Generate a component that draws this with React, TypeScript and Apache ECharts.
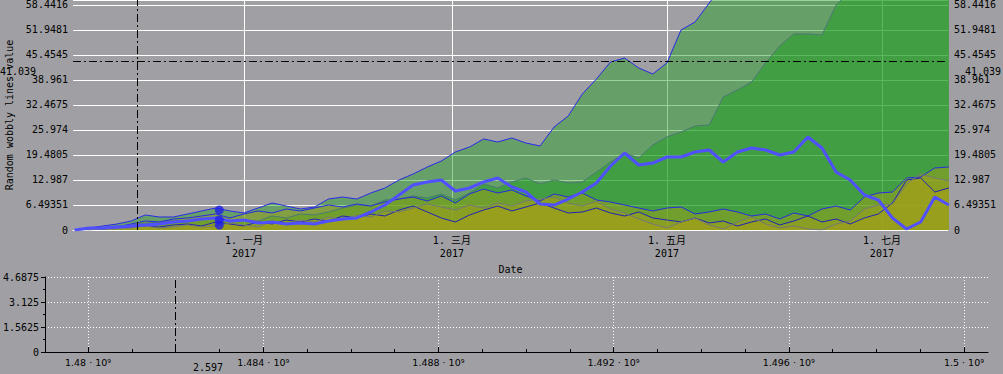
import React, { useEffect, useRef } from "react";
import * as echarts from "echarts";

// ---------- data ----------
const dates = [
  "2016-11-14", "2016-11-18", "2016-11-22", "2016-11-26", "2016-11-30",
  "2016-12-04", "2016-12-08", "2016-12-12", "2016-12-16", "2016-12-20", "2016-12-24", "2016-12-28",
  "2017-01-01", "2017-01-05", "2017-01-09", "2017-01-13", "2017-01-17", "2017-01-21", "2017-01-25", "2017-01-29",
  "2017-02-02", "2017-02-06", "2017-02-10", "2017-02-14", "2017-02-18", "2017-02-22", "2017-02-26",
  "2017-03-02", "2017-03-06", "2017-03-10", "2017-03-14", "2017-03-18", "2017-03-22", "2017-03-26", "2017-03-30",
  "2017-04-03", "2017-04-07", "2017-04-11", "2017-04-15", "2017-04-19", "2017-04-23", "2017-04-27",
  "2017-05-01", "2017-05-05", "2017-05-09", "2017-05-13", "2017-05-17", "2017-05-21", "2017-05-25", "2017-05-29",
  "2017-06-02", "2017-06-06", "2017-06-10", "2017-06-14", "2017-06-18", "2017-06-22", "2017-06-26", "2017-06-30",
  "2017-07-04", "2017-07-08", "2017-07-12", "2017-07-16", "2017-07-20",
];

const wobbleA = [0, 0.52, 1.04, 1.56, 2.34, 3.9, 3.38, 3.38, 4.16, 4.94, 5.71, 4.94, 4.42, 5.71, 7.01, 6.23, 5.45, 5.97, 8.05, 8.57, 8.05, 9.61, 10.91, 12.99, 14.55, 16.36, 17.92, 20.26, 21.56, 23.64, 22.86, 23.9, 22.6, 21.82, 26.75, 29.61, 35.32, 39.22, 43.64, 44.68, 42.08, 40.52, 43.38, 51.95, 54.03, 58.96, 64, 68, 72, 75, 79, 82, 85, 88, 90, 93, 95, 98, 100, 102, 104, 106, 108];
const wobbleB = [0, 0.26, 0.52, 1.04, 1.3, 1.82, 2.08, 2.6, 2.34, 2.86, 3.12, 2.08, 2.6, 2.34, 3.64, 3.12, 4.16, 3.9, 4.68, 5.71, 6.49, 6.23, 7.79, 8.05, 8.83, 8.31, 9.35, 7.79, 9.61, 11.95, 10.91, 12.47, 13.51, 11.95, 12.99, 12.21, 12.47, 15.06, 17.66, 20.0, 18.7, 22.08, 24.16, 25.45, 27.01, 27.27, 34.55, 36.36, 38.44, 43.38, 47.79, 50.91, 50.91, 50.65, 58.44, 62, 64, 66, 68, 70, 72, 74, 76];
const wobbleC = [0, 0.26, 0.52, 0.78, 1.56, 2.34, 2.08, 2.86, 3.12, 3.64, 4.16, 3.12, 4.16, 4.94, 4.42, 5.45, 4.94, 5.71, 6.49, 5.97, 6.75, 6.23, 7.27, 8.05, 8.57, 7.53, 8.83, 7.01, 9.35, 10.65, 9.61, 10.39, 8.83, 7.53, 9.35, 8.57, 9.61, 7.79, 7.27, 6.49, 5.71, 4.94, 5.71, 5.97, 4.16, 4.68, 5.45, 4.68, 3.64, 4.16, 2.86, 4.42, 3.64, 5.45, 6.23, 5.19, 8.57, 9.61, 9.87, 13.51, 13.77, 16.1, 16.36];
const wobbleD = [0, 0.26, 0.26, 0.52, 0.78, 1.04, 0.78, 1.3, 1.56, 1.04, 2.08, 1.56, 1.04, 2.08, 1.56, 2.6, 2.08, 2.86, 2.34, 3.64, 3.12, 4.16, 3.64, 5.19, 6.23, 4.68, 3.12, 2.08, 3.9, 5.19, 6.23, 4.94, 5.97, 7.01, 5.71, 4.42, 4.68, 5.71, 4.42, 3.64, 4.68, 3.12, 2.6, 2.08, 3.12, 1.82, 2.34, 1.04, 2.08, 2.86, 1.3, 2.34, 3.64, 2.08, 2.86, 1.56, 3.12, 4.16, 7.01, 12.99, 13.51, 9.87, 10.91];
const wobbleE = [0, 0, 0.26, 0.26, 0.52, 1.04, 0.52, 0.78, 1.3, 0.78, 1.04, 1.82, 1.3, 0.78, 2.34, 1.56, 2.6, 2.08, 3.38, 2.6, 3.9, 3.38, 4.94, 4.68, 5.71, 6.75, 5.97, 5.19, 6.49, 5.71, 7.01, 6.23, 7.53, 8.05, 8.57, 7.01, 6.23, 7.53, 5.45, 4.42, 2.86, 1.56, 0.52, 2.08, 3.12, 1.3, 0.26, 2.08, 3.38, 1.56, 0.52, 1.04, 0.26, 0, 1.56, 2.34, 5.45, 6.49, 6.75, 11.95, 14.55, 13.51, 12.73];
const wobbleThick = [0, 0.52, 0.52, 0.78, 1.04, 1.3, 1.56, 2.08, 2.34, 2.86, 3.12, 2.34, 2.6, 1.82, 2.08, 1.56, 1.82, 1.56, 2.34, 2.86, 3.12, 4.68, 6.49, 9.09, 11.69, 12.47, 12.99, 10.13, 10.91, 12.47, 13.51, 11.17, 9.87, 6.75, 6.49, 8.05, 9.87, 12.21, 16.62, 20.0, 16.88, 17.4, 18.96, 18.96, 20.26, 20.78, 17.66, 20.26, 21.3, 20.78, 19.48, 20.26, 24.16, 21.3, 15.06, 12.99, 9.09, 7.79, 3.12, 0.26, 2.08, 8.57, 6.49];

const dotDate = "2016-12-25";
const dotValues = [5.19, 2.6, 1.3];

const crossDate = "2016-12-01T16:00:00Z";
const crossValue = 43.9;
const crossLabel = "41.039";
const bottomCross = 1.481989e9;
const bottomCrossLabel = "2.597";

const topStep = 500 / 77;
const topTickLabels = ["0", "6.49351", "12.987", "19.4805", "25.974", "32.4675", "38.961", "45.4545", "51.9481", "58.4416"];
const monthTickDates = ["2017-01-01", "2017-03-01", "2017-05-01", "2017-07-01"];
const monthTickLabels = ["1. 一月\n2017", "1. 三月\n2017", "1. 五月\n2017", "1. 七月\n2017"];

const bottomStep = 1.5625;
const bottomYLabels = ["0", "1.5625", "3.125", "4.6875"];
const bottomXTicks = [1.48e9, 1.484e9, 1.488e9, 1.492e9, 1.496e9, 1.5e9];
const bottomXLabels = ["1.48 · 10⁹", "1.484 · 10⁹", "1.488 · 10⁹", "1.492 · 10⁹", "1.496 · 10⁹", "1.5 · 10⁹"];
const bottomXMinor = [
  1.481e9, 1.482e9, 1.483e9, 1.485e9, 1.486e9, 1.487e9, 1.489e9, 1.49e9, 1.491e9,
  1.493e9, 1.494e9, 1.495e9, 1.497e9, 1.498e9, 1.499e9,
];
const bottomXMin = 1.479017e9;
const bottomXMax = 1.500549e9;

// ---------- helpers ----------
const ts = (s: string) => (s.length <= 10 ? Date.parse(s + "T00:00:00Z") : Date.parse(s));
const MONO = "'DejaVu Sans Mono', 'Noto Sans CJK SC', monospace";
const pairs = (vals: number[]) => dates.map((d, i) => [ts(d), vals[i]]);
const nearestIndex = (arr: number[], v: number) => {
  let best = 0;
  arr.forEach((t, i) => {
    if (Math.abs(t - v) < Math.abs(arr[best] - v)) best = i;
  });
  return best;
};

export default function App() {
  const ref = useRef<HTMLDivElement>(null);

  useEffect(() => {
    if (!ref.current) return;
    const chart = echarts.init(ref.current, null, { renderer: "svg" });
    const monthTicks = monthTickDates.map(ts);
    const dashDot = [8, 3, 2, 3];

    const lineSeries = (name: string, vals: number[], color: string, width: number, area?: string) => {
      const s: any = {
        name,
        type: "line",
        xAxisIndex: 0,
        yAxisIndex: 0,
        data: pairs(vals),
        symbol: "none",
        showSymbol: false,
        clip: true,
        lineStyle: { color, width },
        z: 2,
      };
      if (area) s.areaStyle = { color: area, opacity: 1 };
      return s;
    };

    const option: any = {
      animation: false,
      backgroundColor: "#a0a0a4",
      textStyle: { fontFamily: MONO, fontSize: 10, color: "#000" },
      grid: [
        { left: 73, right: 55, top: 0, bottom: 144, outerBoundsMode: "none", containLabel: false },
        { left: 45, right: 15, top: 277, bottom: 22, outerBoundsMode: "none", containLabel: false },
      ],
      xAxis: [
        {
          type: "value",
          gridIndex: 0,
          min: Date.parse("2016-11-13T12:00:00Z"),
          max: Date.parse("2017-07-19T18:00:00Z"),
          name: "Date",
          nameLocation: "middle",
          nameGap: 32,
          nameTextStyle: { fontFamily: MONO, fontSize: 10, color: "#000", verticalAlign: "top" },
          axisLine: { show: true, onZero: false, lineStyle: { color: "#ffffff", width: 1 } },
          axisTick: { show: false, customValues: monthTicks },
          axisLabel: {
            customValues: monthTicks,
            margin: 4,
            lineHeight: 13,
            fontFamily: MONO,
            fontSize: 10,
            color: "#000",
            formatter: (v: number) => monthTickLabels[nearestIndex(monthTicks, v)],
          },
          splitLine: { show: true, lineStyle: { color: "#ffffff", width: 1 } },
        },
        {
          type: "value",
          gridIndex: 1,
          min: bottomXMin,
          max: bottomXMax,
          axisLine: { show: true, onZero: false, lineStyle: { color: "#000", width: 1 } },
          axisTick: { show: true, inside: true, length: 5, customValues: bottomXTicks, lineStyle: { color: "#000" } },
          axisLabel: {
            customValues: bottomXTicks,
            margin: 5,
            fontFamily: "'DejaVu Sans', sans-serif",
            fontSize: 9.5,
            color: "#000",
            formatter: (v: number) => bottomXLabels[nearestIndex(bottomXTicks, v)],
          },
          splitLine: { show: true, lineStyle: { color: "#ffffff", type: [1, 2], width: 1 } },
        },
        {
          type: "value",
          gridIndex: 1,
          position: "bottom",
          min: bottomXMin,
          max: bottomXMax,
          axisLine: { show: false, onZero: false },
          axisTick: { show: true, inside: true, length: 3, customValues: bottomXMinor, lineStyle: { color: "#000" } },
          axisLabel: { show: false },
          splitLine: { show: false },
        },
      ],
      yAxis: [
        {
          type: "value",
          gridIndex: 0,
          position: "left",
          min: 0,
          max: 59.74,
          interval: topStep,
          name: "Random wobbly lines value",
          nameLocation: "middle",
          nameGap: 58,
          nameTextStyle: { fontFamily: MONO, fontSize: 10, color: "#000" },
          axisLine: { show: false },
          axisTick: { show: false },
          axisLabel: {
            margin: 5,
            showMaxLabel: false,
            fontFamily: MONO,
            fontSize: 10,
            color: "#000",
            formatter: (v: number) => topTickLabels[Math.round(v / topStep)] ?? "",
          },
          splitLine: { show: true, lineStyle: { color: "#ffffff", width: 1 } },
        },
        {
          type: "value",
          gridIndex: 0,
          position: "right",
          min: 0,
          max: 59.74,
          interval: topStep,
          axisLine: { show: false },
          axisTick: { show: false },
          axisLabel: {
            margin: 6,
            showMaxLabel: false,
            fontFamily: MONO,
            fontSize: 10,
            color: "#000",
            formatter: (v: number) => topTickLabels[Math.round(v / topStep)] ?? "",
          },
          splitLine: { show: false },
        },
        {
          type: "value",
          gridIndex: 1,
          min: 0,
          max: 4.6875,
          interval: bottomStep,
          axisLine: { show: true, onZero: false, lineStyle: { color: "#000", width: 1 } },
          axisTick: { show: true, length: 4, lineStyle: { color: "#000" } },
          minorTick: { show: true, splitNumber: 2, length: 2, lineStyle: { color: "#000" } },
          axisLabel: {
            margin: 6,
            fontFamily: MONO,
            fontSize: 10,
            color: "#000",
            formatter: (v: number) => bottomYLabels[Math.round(v / bottomStep)] ?? "",
          },
          splitLine: { show: true, lineStyle: { color: "#ffffff", type: [1, 2], width: 1 } },
        },
      ],
      series: [
        lineSeries("wobble A", wobbleA, "#2a2ae6", 1, "rgba(30,158,30,0.45)"),
        lineSeries("wobble B", wobbleB, "#4a7a72", 1, "rgba(30,158,30,0.5)"),
        lineSeries("wobble C", wobbleC, "#2a2ae0", 1, "rgba(168,160,22,0.45)"),
        lineSeries("wobble D", wobbleD, "#2222b8", 1, "rgba(168,160,22,0.45)"),
        lineSeries("wobble E", wobbleE, "#777777", 1, "rgba(168,160,22,0.45)"),
        lineSeries("wobble thick", wobbleThick, "#5050ff", 3),
        {
          name: "tracer",
          type: "scatter",
          xAxisIndex: 0,
          yAxisIndex: 0,
          data: dotValues.map((v) => [ts(dotDate), v]),
          symbol: "circle",
          symbolSize: 9,
          itemStyle: { color: "#1e1ee8" },
          z: 5,
          markLine: {
            silent: true,
            symbol: "none",
            label: { show: false },
            lineStyle: { color: "#000", width: 1, type: dashDot },
            data: [{ xAxis: ts(crossDate) }, { yAxis: crossValue }],
          },
        },
        {
          name: "bottom",
          type: "line",
          xAxisIndex: 1,
          yAxisIndex: 2,
          data: [],
          markLine: {
            silent: true,
            symbol: "none",
            label: { show: false },
            lineStyle: { color: "#000", width: 1, type: dashDot },
            data: [{ xAxis: bottomCross }],
          },
        },
      ],
      graphic: [
        { type: "text", left: 0, top: 66, z: 100, style: { text: crossLabel, font: `10px ${MONO}`, fill: "#000" } },
        { type: "text", left: 965, top: 66, z: 100, style: { text: crossLabel, font: `10px ${MONO}`, fill: "#000" } },
        { type: "text", left: 193, top: 362, z: 100, style: { text: bottomCrossLabel, font: `10px ${MONO}`, fill: "#000" } },
      ],
    };

    chart.setOption(option);
    return () => chart.dispose();
  }, []);

  return (
    <div
      ref={ref}
      style={{ position: "fixed", left: 0, top: 0, width: 1003, height: 374, background: "#a0a0a4" }}
    />
  );
}
